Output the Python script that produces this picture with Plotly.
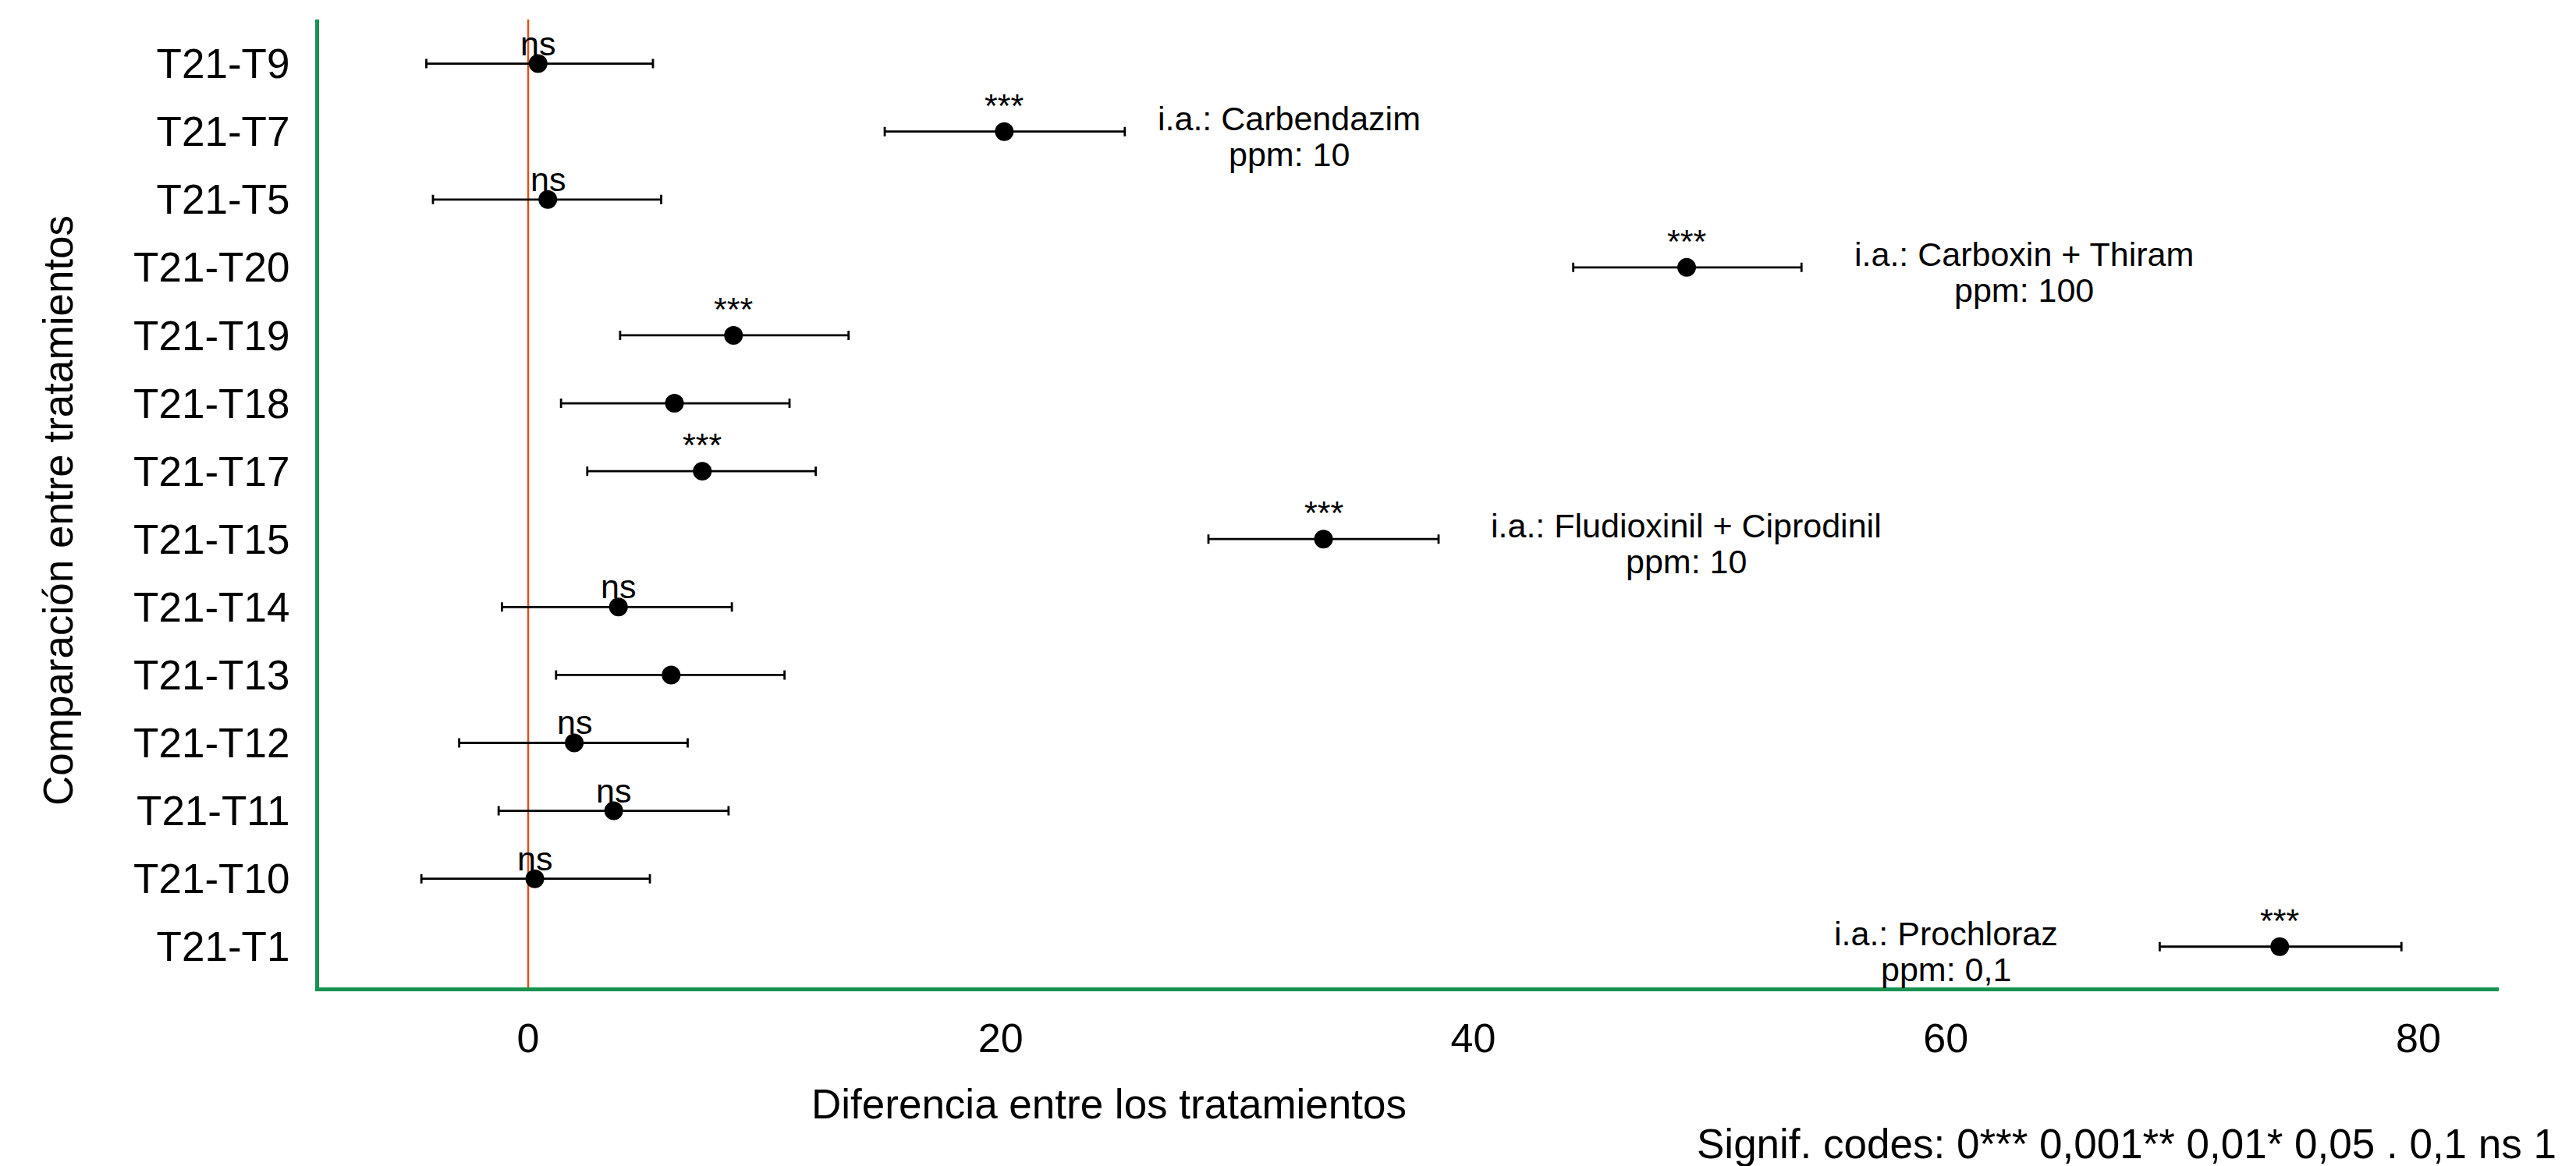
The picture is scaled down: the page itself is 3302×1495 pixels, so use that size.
import plotly.graph_objects as go

# ---- data (bottom to top) ----
comparisons = ["T21-T1", "T21-T10", "T21-T11", "T21-T12", "T21-T13", "T21-T14", "T21-T15",
               "T21-T17", "T21-T18", "T21-T19", "T21-T20", "T21-T5", "T21-T7", "T21-T9"]
estimate = [74.13, 0.28, 3.62, 1.95, 6.05, 3.82, 33.66, 7.37, 6.19, 8.69, 49.03, 0.83, 20.15, 0.42]
lower    = [69.05, -4.52, -1.25, -2.92, 1.18, -1.11, 28.79, 2.50, 1.39, 3.89, 44.23, -4.03, 15.09, -4.31]
upper    = [79.28, 5.15, 8.48, 6.75, 10.85, 8.62, 38.53, 12.17, 11.06, 13.56, 53.89, 5.63, 25.25, 5.28]
signif   = ["***", "ns", "ns", "ns", "", "ns", "***", "***", "", "***", "***", "ns", "***", "ns"]

label_rows  = ["T21-T7", "T21-T20", "T21-T15", "T21-T1"]
label_line1 = ["i.a.: Carbendazim", "i.a.: Carboxin + Thiram", "i.a.: Fludioxinil + Ciprodinil", "i.a.: Prochloraz"]
label_line2 = ["ppm: 10", "ppm: 100", "ppm: 10", "ppm: 0,1"]
label_x     = [32.2, 63.3, 49.0, 60.0]

x_ticks = [0, 20, 40, 60, 80]
x_title = "Diferencia entre los tratamientos"
y_title = "Comparación entre tratamientos"
caption = "Signif. codes: 0*** 0,001** 0,01* 0,05 . 0,1 ns 1"

FONT = "Liberation Sans, Arial, Helvetica, sans-serif"
GREEN = "#17924F"
RED = "#D9541E"

W, H = 3302, 1495
OFF = 8  # page body margin offset
L, R, T, B = 409 - OFF, 99 + OFF, 25 - OFF, 229 + OFF
pw, ph = W - L - R, H - T - B


def px_to_paper(xa, ya):
    """absolute screenshot pixel -> paper coords"""
    return (xa - OFF - L) / pw, (H - B - (ya - OFF)) / ph


fig = go.Figure()
fig.add_trace(go.Scatter(
    x=estimate, y=comparisons, mode="markers",
    marker=dict(color="black", size=24),
    error_x=dict(type="data", symmetric=False,
                 array=[u - e for u, e in zip(upper, estimate)],
                 arrayminus=[e - l for e, l in zip(estimate, lower)],
                 color="black", thickness=2.8, width=6),
    showlegend=False, hoverinfo="skip"))

annotations = []
for c, e, s in zip(comparisons, estimate, signif):
    if s:
        annotations.append(dict(x=e, y=c, xref="x", yref="y", text=s, showarrow=False,
                                yanchor="middle", xanchor="center",
                                yshift=34 if s == "***" else 26,
                                font=dict(family=FONT, size=43, color="black")))
for r, t1, t2, lx in zip(label_rows, label_line1, label_line2, label_x):
    annotations.append(dict(x=lx, y=r, xref="x", yref="y", text=t1, showarrow=False,
                            yanchor="middle", xanchor="center", yshift=17,
                            font=dict(family=FONT, size=43, color="black")))
    annotations.append(dict(x=lx, y=r, xref="x", yref="y", text=t2, showarrow=False,
                            yanchor="middle", xanchor="center", yshift=-29,
                            font=dict(family=FONT, size=43, color="black")))

xt, yt = px_to_paper(1421, 1415)
annotations.append(dict(x=xt, y=yt, xref="paper", yref="paper",
                        text=x_title, showarrow=False, xanchor="center", yanchor="middle",
                        font=dict(family=FONT, size=53, color="black")))
xt, yt = px_to_paper(74, 655)
annotations.append(dict(x=xt, y=yt, xref="paper", yref="paper",
                        text=y_title, showarrow=False, xanchor="center", yanchor="middle",
                        textangle=-90, font=dict(family=FONT, size=53, color="black")))
xt, yt = px_to_paper(3279, 1466)
annotations.append(dict(x=xt, y=yt, xref="paper", yref="paper",
                        text=caption, showarrow=False, xanchor="right", yanchor="middle",
                        font=dict(family=FONT, size=53, color="black")))

fig.add_shape(type="line", x0=0, x1=0, y0=0, y1=1, xref="x", yref="paper",
              line=dict(color=RED, width=2.5), layer="below")

fig.update_layout(
    width=W, height=H,
    margin=dict(l=L, r=R, t=T, b=B, pad=0),
    paper_bgcolor="white", plot_bgcolor="white",
    font=dict(family=FONT, color="black"),
    annotations=annotations,
    xaxis=dict(range=[-8.85, 83.4], tickvals=x_ticks, ticktext=[str(v) for v in x_ticks],
               showgrid=False, zeroline=False, showline=True, linecolor=GREEN, linewidth=5,
               ticks="", ticklabelstandoff=16, tickfont=dict(family=FONT, size=52, color="black")),
    yaxis=dict(type="category", categoryorder="array", categoryarray=comparisons,
               range=[-0.6, 13.65], showgrid=False, zeroline=False, showline=True,
               linecolor=GREEN, linewidth=5, ticks="", ticklabelstandoff=22,
               tickfont=dict(family=FONT, size=53, color="black")),
)

fig.write_html("out.html")
